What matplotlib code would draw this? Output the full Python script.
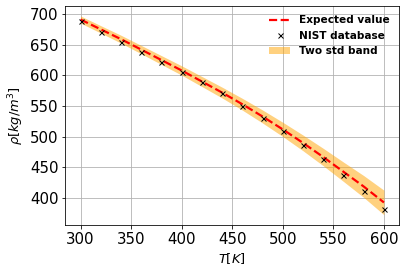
import numpy as np
import matplotlib.pyplot as plt

T = np.array([300, 320, 340, 360, 380, 400, 420, 440, 460, 480,
              500, 520, 540, 560, 580, 600])
rho_nist = np.array([688, 671, 655, 638, 622, 606, 589, 571, 550, 530,
                     509, 487, 463, 437, 411, 383])
rho_mean = np.array([691, 675, 659, 642, 625, 608, 590, 572, 553, 533,
                     512, 490, 467, 443, 419, 393])
rho_std = np.array([2.9, 3.0, 3.2, 3.4, 3.6, 3.8, 4.1, 4.4, 4.8, 5.3,
                    5.8, 6.4, 7.1, 7.9, 8.9, 10.0])

fig, ax = plt.subplots(figsize=(406 / 72, 274 / 72), dpi=72)
fig.subplots_adjust(left=0.161, right=0.983, top=0.978, bottom=0.18)

ax.plot(T, rho_mean, 'r--', linewidth=2.2, label='Expected value', zorder=3)
ax.plot(T, rho_nist, 'kx', markersize=5, label='NIST database', zorder=4)
ax.fill_between(T, rho_mean - 2 * rho_std, rho_mean + 2 * rho_std,
                color='orange', alpha=0.5, linewidth=0, label='Two std band', zorder=2)

ax.grid(True)
ax.set_xticks([300, 350, 400, 450, 500, 550, 600])
ax.set_yticks([400, 450, 500, 550, 600, 650, 700])
ax.tick_params(labelsize=15)
ax.set_xlabel(r'$T[K]$', fontsize=13)
ax.set_ylabel(r'$\rho[kg/m^3]$', fontsize=13)

ax.legend(frameon=False, prop={'weight': 'bold', 'size': 10.5}, loc='upper right')

fig.savefig('out.png', dpi=72)
